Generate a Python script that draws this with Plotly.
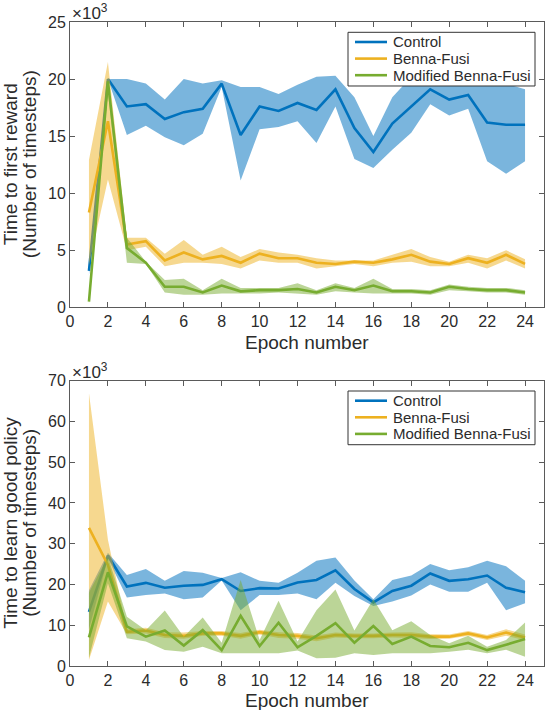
import plotly.graph_objects as go

# epochs shared by both panels
epochs = list(range(1, 25))

# --- top panel: time to first reward (x10^3 timesteps) ---
reward_control = [3.2, 20.0, 17.6, 17.8, 16.5, 17.1, 17.4, 19.6, 15.1, 17.6, 17.2, 17.9,
                  17.3, 19.1, 15.7, 13.6, 16.1, 17.6, 19.1, 18.2, 18.6, 16.2, 16.0, 16.0]
reward_control_hi = [3.8, 20.0, 20.0, 19.6, 18.2, 20.0, 19.6, 19.9, 19.3, 19.3, 18.7, 19.5,
                     20.2, 20.3, 18.4, 15.0, 18.4, 20.2, 20.0, 20.0, 20.0, 19.6, 19.6, 19.1]
reward_control_lo = [2.8, 20.0, 15.1, 15.9, 14.9, 14.2, 15.2, 19.3, 11.1, 15.6, 15.8, 16.3,
                     14.4, 17.6, 13.0, 12.2, 13.8, 15.3, 17.8, 16.8, 17.4, 12.8, 11.7, 12.8]

reward_bf = [8.3, 16.3, 5.5, 5.8, 4.1, 4.8, 4.2, 4.5, 3.9, 4.7, 4.3, 4.3,
             3.9, 3.8, 4.0, 3.9, 4.2, 4.6, 4.0, 3.8, 4.3, 3.9, 4.6, 3.8]
reward_bf_hi = [12.9, 21.5, 6.1, 6.1, 4.7, 5.9, 4.6, 5.3, 4.4, 5.1, 4.8, 4.6,
                4.3, 4.1, 4.1, 4.1, 4.6, 5.1, 4.4, 4.0, 4.6, 4.3, 5.0, 4.2]
reward_bf_lo = [3.7, 11.2, 5.0, 5.3, 3.6, 3.9, 3.9, 3.8, 3.4, 4.1, 3.9, 3.9,
                3.4, 3.6, 3.8, 3.6, 3.9, 4.0, 3.6, 3.6, 3.9, 3.4, 4.1, 3.4]

reward_mbf = [0.5, 19.8, 5.2, 3.9, 1.8, 1.8, 1.3, 1.9, 1.4, 1.5, 1.5, 1.6,
              1.3, 1.8, 1.5, 1.9, 1.4, 1.4, 1.3, 1.8, 1.6, 1.5, 1.5, 1.3]
reward_mbf_hi = [0.7, 20.0, 6.1, 4.0, 2.4, 2.5, 1.5, 2.5, 1.7, 1.7, 1.7, 2.1,
                 1.5, 2.1, 1.7, 2.5, 1.6, 1.6, 1.5, 2.0, 1.8, 1.7, 1.7, 1.5]
reward_mbf_lo = [0.3, 18.8, 3.9, 3.8, 1.3, 1.1, 1.1, 1.2, 1.2, 1.2, 1.3, 1.2,
                 1.1, 1.4, 1.3, 1.2, 1.2, 1.2, 1.1, 1.5, 1.4, 1.3, 1.3, 1.1]

# --- bottom panel: time to learn good policy (x10^3 timesteps) ---
policy_control = [13.3, 27.1, 19.5, 20.4, 19.2, 19.7, 19.9, 21.3, 18.4, 19.1, 19.0, 20.5,
                  21.1, 23.5, 18.9, 15.6, 18.4, 19.7, 22.7, 20.9, 21.3, 22.2, 19.2, 18.1]
policy_control_hi = [18.6, 27.8, 22.3, 23.8, 20.9, 23.3, 22.9, 21.6, 23.0, 20.9, 20.4, 22.9,
                     25.8, 26.6, 21.0, 16.4, 21.1, 22.2, 25.0, 23.5, 24.2, 25.8, 24.5, 20.9]
policy_control_lo = [9.0, 26.4, 16.8, 17.4, 17.8, 16.4, 16.8, 21.0, 13.7, 17.4, 17.4, 17.8,
                     16.4, 20.4, 17.2, 14.7, 15.8, 17.3, 20.0, 18.2, 18.2, 20.4, 13.7, 15.4]

policy_bf = [33.9, 24.8, 8.4, 8.7, 7.6, 7.4, 8.0, 8.0, 7.4, 8.3, 7.6, 7.4,
             6.8, 7.6, 7.4, 7.4, 7.6, 7.6, 7.2, 7.2, 8.0, 7.0, 8.2, 7.0]
policy_bf_hi = [66.9, 31.0, 9.0, 9.4, 8.3, 8.2, 8.6, 8.6, 8.1, 8.9, 8.3, 8.1,
                7.5, 8.2, 8.0, 8.0, 8.2, 8.3, 7.8, 7.7, 8.6, 7.6, 9.0, 7.7]
policy_bf_lo = [1.5, 15.8, 7.8, 8.0, 6.9, 6.7, 7.4, 7.4, 6.7, 7.7, 6.9, 6.7,
                6.1, 7.0, 6.8, 6.8, 7.0, 6.9, 6.6, 6.7, 7.4, 6.4, 7.4, 6.3]

policy_mbf = [7.0, 23.0, 9.7, 7.2, 8.7, 5.0, 8.8, 3.9, 12.3, 4.9, 10.6, 4.6,
              7.4, 10.5, 5.7, 9.8, 5.4, 7.2, 4.9, 4.6, 5.7, 3.9, 5.2, 6.6]
policy_mbf_hi = [18.0, 26.8, 12.1, 8.8, 13.6, 7.2, 11.9, 5.7, 21.1, 6.4, 16.0, 6.0,
                 13.7, 18.8, 8.7, 16.4, 8.8, 11.0, 7.6, 5.6, 7.4, 4.7, 6.4, 10.7]
policy_mbf_lo = [2.0, 20.3, 6.8, 6.0, 3.9, 3.5, 4.7, 3.1, 3.1, 3.1, 3.1, 3.8,
                 1.9, 2.0, 3.1, 2.7, 3.1, 3.1, 3.1, 3.5, 4.0, 3.1, 4.0, 2.3]

names = ["Control", "Benna-Fusi", "Modified Benna-Fusi"]
line_colors = ["#0072BD", "#EDB120", "#77AC30"]
fill_colors = ["rgba(0,114,189,0.52)", "rgba(237,177,32,0.5)", "rgba(119,172,48,0.5)"]

panels = [
    ("x", "y", "Time to first reward", [
        (reward_control, reward_control_hi, reward_control_lo),
        (reward_bf, reward_bf_hi, reward_bf_lo),
        (reward_mbf, reward_mbf_hi, reward_mbf_lo)]),
    ("x2", "y2", "Time to learn good policy", [
        (policy_control, policy_control_hi, policy_control_lo),
        (policy_bf, policy_bf_hi, policy_bf_lo),
        (policy_mbf, policy_mbf_hi, policy_mbf_lo)]),
]

fig = go.Figure()

for xa, ya, _, series in panels:
    for i, (mean, hi, lo) in enumerate(series):
        # shaded band
        fig.add_trace(go.Scatter(
            x=epochs + epochs[::-1], y=hi + lo[::-1],
            fill="toself", fillcolor=fill_colors[i], line=dict(width=0),
            mode="lines", hoverinfo="skip", showlegend=False,
            xaxis=xa, yaxis=ya))
        # mean line
        fig.add_trace(go.Scatter(
            x=epochs, y=mean, mode="lines", name=names[i],
            line=dict(color=line_colors[i], width=2.6),
            showlegend=False, xaxis=xa, yaxis=ya))

font_name = "Liberation Sans, Arial, sans-serif"
axis_color = "#5a5a5a"
text_color = "#2b2b2b"

xaxis_style = dict(
    range=[0, 25], tickvals=list(range(0, 25, 2)),
    ticks="inside", ticklen=5, tickcolor=axis_color,
    showline=True, linecolor=axis_color, linewidth=1, mirror="allticks",
    showgrid=False, zeroline=False, automargin=False,
    tickfont=dict(size=16, color=text_color),
)

yaxis_style = dict(
    ticks="inside", ticklen=5, tickcolor=axis_color,
    showline=True, linecolor=axis_color, linewidth=1, mirror="allticks",
    showgrid=False, zeroline=False, automargin=False,
    tickfont=dict(size=16, color=text_color),
)

fig.update_layout(
    width=546, height=710,
    margin=dict(l=70, r=2, t=22, b=44),
    paper_bgcolor="white", plot_bgcolor="white",
    font=dict(family=font_name, color=text_color),
    showlegend=False,
    xaxis=dict(xaxis_style, domain=[0, 1], anchor="y"),
    yaxis=dict(yaxis_style, domain=[0.557, 1], anchor="x", range=[0, 25],
               tickvals=[0, 5, 10, 15, 20, 25]),
    xaxis2=dict(xaxis_style, domain=[0, 1], anchor="y2"),
    yaxis2=dict(yaxis_style, domain=[0, 0.443], anchor="x2", range=[0, 70],
                tickvals=[0, 10, 20, 30, 40, 50, 60, 70]),
)

panel_h = 285.3  # pixel height of each axes box
panel_w = 474.0

for xa, ya, ytitle, _ in panels:
    xr, yr = xa + " domain", ya + " domain"

    # exponent label above the axes
    fig.add_annotation(
        text="\u00d710<sup>3</sup>", xref=xr, yref=yr, x=0, y=1,
        xanchor="left", yanchor="bottom", showarrow=False,
        font=dict(size=17, color=text_color), yshift=-3)

    # x title
    fig.add_annotation(
        text="Epoch number", xref=xr, yref=yr, x=0.5, y=-35 / panel_h,
        xanchor="center", yanchor="middle", showarrow=False,
        font=dict(size=19, color=text_color))

    # two-line y title
    for text, px in [(ytitle, 10.5), ("(Number of timesteps)", 29.5)]:
        fig.add_annotation(
            text=text, xref=xr, yref=yr, x=(px - 70) / panel_w, y=0.5,
            xanchor="center", yanchor="middle", textangle=-90, showarrow=False,
            font=dict(size=19, color=text_color))

    # legend box drawn inside the axes (pixel offsets from the top-left corner)
    fig.add_shape(
        type="rect", xref=xr, yref=yr,
        x0=(348 - 70) / panel_w, x1=(535 - 70) / panel_w,
        y0=1 - 10.3 / panel_h, y1=1 - 64 / panel_h,
        line=dict(color="#333333", width=1), fillcolor="white")
    for i, name in enumerate(names):
        yy = 1 - (20 + 16.6 * i) / panel_h
        fig.add_shape(
            type="line", xref=xr, yref=yr,
            x0=(355 - 70) / panel_w, x1=(387 - 70) / panel_w, y0=yy, y1=yy,
            line=dict(color=line_colors[i], width=2.6))
        fig.add_annotation(
            text=name, xref=xr, yref=yr, x=(391 - 70) / panel_w, y=yy,
            xanchor="left", yanchor="middle", showarrow=False,
            font=dict(size=15, color=text_color))

# drop the default page margin so the figure sits flush with the window
fig.write_html("out.html", config={"displayModeBar": False},
               post_script="document.body.style.margin='0px';")
